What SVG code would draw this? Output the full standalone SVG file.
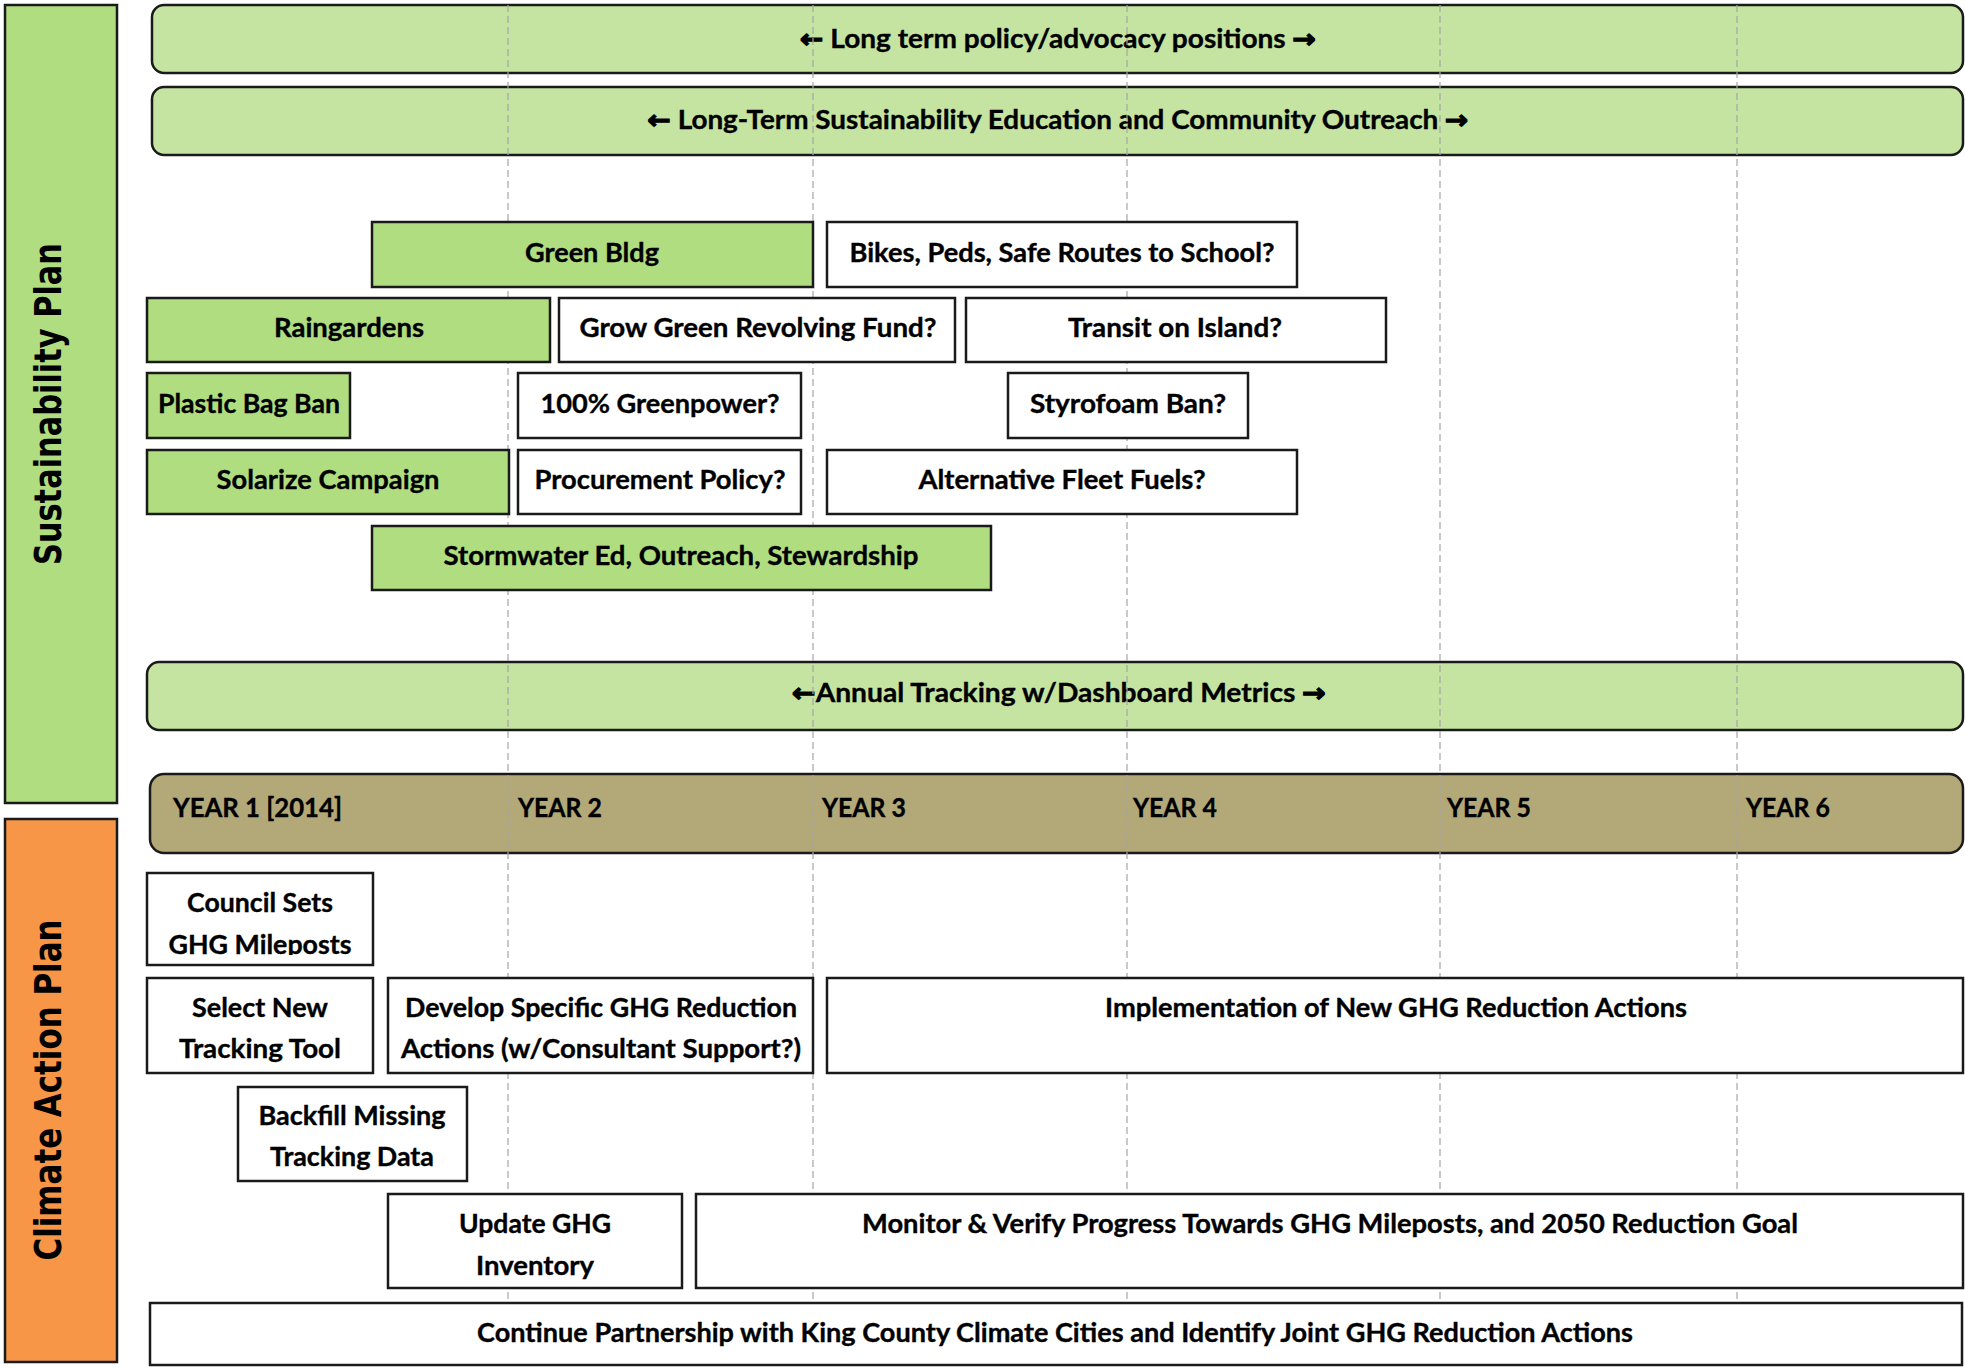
<svg xmlns="http://www.w3.org/2000/svg" width="1965" height="1368" viewBox="0 0 1965 1368">
<defs>
<style>
.bg{fill:#ffffff}
.side{stroke:#1a1a1a;stroke-width:2.5}
.sust{fill:#B0DD80}
.cap{fill:#F79646}
.band{fill:#C5E4A1;stroke:#1a1a1a;stroke-width:2.5}
.years{fill:#B3A877;stroke:#1a1a1a;stroke-width:2.5}
.g{fill:#AFDD7F;stroke:#1a1a1a;stroke-width:2.5}
.w{fill:#ffffff;stroke:#1a1a1a;stroke-width:2.5}
.grid{stroke:#a6a6a6;stroke-width:1.2;stroke-dasharray:7 4;fill:none}
.t{font-family:Lato,"DejaVu Sans",sans-serif;font-weight:bold;font-size:26px;fill:#000;stroke:#000;stroke-width:0.35;text-anchor:middle}
.ty{font-family:Lato,"DejaVu Sans",sans-serif;font-weight:bold;font-size:26px;fill:#000;stroke:#000;stroke-width:0.35}
.ar{font-family:"DejaVu Sans",sans-serif;font-weight:bold;stroke-width:1.2}
.st{font-family:"DejaVu Sans",Verdana,sans-serif;font-weight:bold;font-size:38px;fill:#000;text-anchor:middle}
</style>
<clipPath id="clipCouncil"><rect x="147" y="873" width="226" height="82"/></clipPath>
</defs>
<rect class="bg" x="0" y="0" width="1965" height="1368"/>

<g id="side-sustainability">
<rect class="side sust" x="5" y="5" width="112" height="798"/>
<text class="st" transform="translate(61,404) rotate(-90)" textLength="322" lengthAdjust="spacingAndGlyphs">Sustainability Plan</text>
</g>
<g id="side-climate">
<rect class="side cap" x="5" y="819" width="112" height="543"/>
<text class="st" transform="translate(61,1090) rotate(-90)" textLength="341" lengthAdjust="spacingAndGlyphs">Climate Action Plan</text>
</g>

<g id="band-policy">
<rect class="band" x="152" y="5" width="1811" height="68" rx="12"/>
<text class="t" x="1058" y="48" textLength="516" lengthAdjust="spacingAndGlyphs"><tspan class="ar">←</tspan> Long term policy/advocacy positions <tspan class="ar">→</tspan></text>
</g>
<g id="band-outreach">
<rect class="band" x="152" y="87" width="1811" height="68" rx="12"/>
<text class="t" x="1058" y="129" textLength="821" lengthAdjust="spacingAndGlyphs"><tspan class="ar">←</tspan> Long-Term Sustainability Education and Community Outreach <tspan class="ar">→</tspan></text>
</g>
<g id="band-annual">
<rect class="band" x="147" y="662" width="1816" height="68" rx="12"/>
<text class="t" x="1059" y="702" textLength="534" lengthAdjust="spacingAndGlyphs"><tspan class="ar">←</tspan>Annual Tracking w/Dashboard Metrics <tspan class="ar">→</tspan></text>
</g>
<g id="band-years">
<rect class="years" x="150" y="774" width="1813" height="79" rx="14"/>
<text class="ty" x="173" y="817" textLength="169" lengthAdjust="spacingAndGlyphs">YEAR 1 [2014]</text>
<text class="ty" x="518" y="817" textLength="84" lengthAdjust="spacingAndGlyphs">YEAR 2</text>
<text class="ty" x="822" y="817" textLength="84" lengthAdjust="spacingAndGlyphs">YEAR 3</text>
<text class="ty" x="1133" y="817" textLength="84" lengthAdjust="spacingAndGlyphs">YEAR 4</text>
<text class="ty" x="1447" y="817" textLength="84" lengthAdjust="spacingAndGlyphs">YEAR 5</text>
<text class="ty" x="1746" y="817" textLength="84" lengthAdjust="spacingAndGlyphs">YEAR 6</text>
</g>

<g id="connectors">
<line class="grid" x1="508" y1="5" x2="508" y2="1368"/>
<line class="grid" x1="813" y1="5" x2="813" y2="1368"/>
<line class="grid" x1="1127" y1="5" x2="1127" y2="1368"/>
<line class="grid" x1="1440" y1="5" x2="1440" y2="1368"/>
<line class="grid" x1="1737" y1="5" x2="1737" y2="1368"/>
</g>

<g id="green-bldg">
<rect class="g" x="372" y="222" width="441" height="65"/>
<text class="t" x="592" y="262" textLength="134" lengthAdjust="spacingAndGlyphs">Green Bldg</text>
</g>
<g id="bikes">
<rect class="w" x="827" y="222" width="470" height="65"/>
<text class="t" x="1062" y="262" textLength="425" lengthAdjust="spacingAndGlyphs">Bikes, Peds, Safe Routes to School?</text>
</g>
<g id="raingardens">
<rect class="g" x="147" y="298" width="403" height="64"/>
<text class="t" x="349" y="337" textLength="150" lengthAdjust="spacingAndGlyphs">Raingardens</text>
</g>
<g id="grow-green">
<rect class="w" x="559" y="298" width="396" height="64"/>
<text class="t" x="758" y="337" textLength="357" lengthAdjust="spacingAndGlyphs">Grow Green Revolving Fund?</text>
</g>
<g id="transit">
<rect class="w" x="966" y="298" width="420" height="64"/>
<text class="t" x="1175" y="337" textLength="214" lengthAdjust="spacingAndGlyphs">Transit on Island?</text>
</g>
<g id="plastic-bag">
<rect class="g" x="147" y="373" width="203" height="65"/>
<text class="t" x="249" y="413" textLength="182" lengthAdjust="spacingAndGlyphs">Plastic Bag Ban</text>
</g>
<g id="greenpower">
<rect class="w" x="518" y="373" width="283" height="65"/>
<text class="t" x="660" y="413" textLength="239" lengthAdjust="spacingAndGlyphs">100% Greenpower?</text>
</g>
<g id="styrofoam">
<rect class="w" x="1008" y="373" width="240" height="65"/>
<text class="t" x="1128" y="413" textLength="196" lengthAdjust="spacingAndGlyphs">Styrofoam Ban?</text>
</g>
<g id="solarize">
<rect class="g" x="147" y="450" width="362" height="64"/>
<text class="t" x="328" y="489" textLength="223" lengthAdjust="spacingAndGlyphs">Solarize Campaign</text>
</g>
<g id="procurement">
<rect class="w" x="518" y="450" width="283" height="64"/>
<text class="t" x="660" y="489" textLength="251" lengthAdjust="spacingAndGlyphs">Procurement Policy?</text>
</g>
<g id="fleet-fuels">
<rect class="w" x="827" y="450" width="470" height="64"/>
<text class="t" x="1062" y="489" textLength="287" lengthAdjust="spacingAndGlyphs">Alternative Fleet Fuels?</text>
</g>
<g id="stormwater">
<rect class="g" x="372" y="526" width="619" height="64"/>
<text class="t" x="681" y="565" textLength="475" lengthAdjust="spacingAndGlyphs">Stormwater Ed, Outreach, Stewardship</text>
</g>

<g id="council-sets">
<rect class="w" x="147" y="873" width="226" height="92"/>
<g clip-path="url(#clipCouncil)">
<text class="t" x="260" y="912" textLength="146" lengthAdjust="spacingAndGlyphs">Council Sets</text>
<text class="t" x="260" y="954" textLength="183" lengthAdjust="spacingAndGlyphs">GHG Mileposts</text>
</g>
</g>
<g id="select-tool">
<rect class="w" x="147" y="978" width="226" height="95"/>
<text class="t" x="260" y="1017" textLength="136" lengthAdjust="spacingAndGlyphs">Select New</text>
<text class="t" x="260" y="1058" textLength="162" lengthAdjust="spacingAndGlyphs">Tracking Tool</text>
</g>
<g id="develop-actions">
<rect class="w" x="388" y="978" width="425" height="95"/>
<text class="t" x="601" y="1017" textLength="392" lengthAdjust="spacingAndGlyphs">Develop Specific GHG Reduction</text>
<text class="t" x="601" y="1058" textLength="400" lengthAdjust="spacingAndGlyphs">Actions (w/Consultant Support?)</text>
</g>
<g id="implementation">
<rect class="w" x="827" y="978" width="1136" height="95"/>
<text class="t" x="1396" y="1017" textLength="582" lengthAdjust="spacingAndGlyphs">Implementation of New GHG Reduction Actions</text>
</g>
<g id="backfill">
<rect class="w" x="238" y="1087" width="229" height="94"/>
<text class="t" x="352" y="1125" textLength="187" lengthAdjust="spacingAndGlyphs">Backfill Missing</text>
<text class="t" x="352" y="1166" textLength="164" lengthAdjust="spacingAndGlyphs">Tracking Data</text>
</g>
<g id="update-inventory">
<rect class="w" x="388" y="1194" width="294" height="94"/>
<text class="t" x="535" y="1233" textLength="152" lengthAdjust="spacingAndGlyphs">Update GHG</text>
<text class="t" x="535" y="1275" textLength="118" lengthAdjust="spacingAndGlyphs">Inventory</text>
</g>
<g id="monitor">
<rect class="w" x="696" y="1194" width="1267" height="94"/>
<text class="t" x="1330" y="1233" textLength="936" lengthAdjust="spacingAndGlyphs">Monitor &amp; Verify Progress Towards GHG Mileposts, and 2050 Reduction Goal</text>
</g>
<g id="partnership">
<rect class="w" x="150" y="1303" width="1812" height="62"/>
<text class="t" x="1055" y="1342" textLength="1156" lengthAdjust="spacingAndGlyphs">Continue Partnership with King County Climate Cities and Identify Joint GHG Reduction Actions</text>
</g>
</svg>
